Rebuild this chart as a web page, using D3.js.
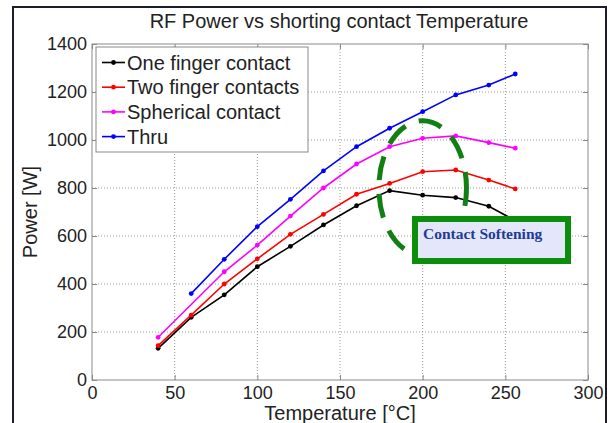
<!DOCTYPE html>
<html lang="en">
  <head>
    <meta charset="utf-8">
    <title>RF Power vs shorting contact Temperature</title>
    <style>
      body { margin: 0; background: #fff; }
      svg { display: block; }
    </style>
  </head>
  <body>
    <div id="chart"></div>
  </body>
  <script src="https://cdnjs.cloudflare.com/ajax/libs/d3/7.8.5/d3.min.js"></script>
  <script type="text/javascript">

    // data (temperature in degC, power in W)
    const temps      = [40, 60, 80, 100, 120, 140, 160, 180, 200, 220, 240, 256]
    const oneFinger  = [132, 261, 355, 472, 557, 646, 726, 789, 770, 760, 724, 664]
    const twoFinger  = [143, 270, 400, 505, 607, 690, 774, 819, 868, 875, 833, 796]
    const spherical  = [178, null, 451, 562, 683, 800, 900, 972, 1007, 1017, 989, 966]
    const thru       = [null, 360, 503, 639, 753, 871, 972, 1049, 1118, 1188, 1229, 1275]

    const seriesNames  = ['One finger contact', 'Two finger contacts', 'Spherical contact', 'Thru']
    const seriesColors = ['#000000', '#ff0000', '#ff00ff', '#0000ff']
    const xTicks = [0, 50, 100, 150, 200, 250, 300]
    const yTicks = [0, 200, 400, 600, 800, 1000, 1200, 1400]

    const width = 610, height = 423
    const font = '"Liberation Sans", Arial, Helvetica, sans-serif'

    const svg = d3.select('#chart').append('svg')
      .attr('width', width)
      .attr('height', height)

    // dark frame round the picture
    svg.append('rect')
      .attr('x', 13).attr('y', 7)
      .attr('width', 593).attr('height', 430)
      .attr('fill', 'none')
      .attr('stroke', '#1c1c2c')
      .attr('stroke-width', 2)

    const x = d3.scaleLinear().domain([0, 300]).range([92, 588])
    const y = d3.scaleLinear().domain([0, 1400]).range([380, 44])

    // grid
    const grid = svg.append('g')
    grid.selectAll('.vgrid')
      .data(xTicks.slice(1, -1))
      .join('line')
      .attr('x1', d => x(d)).attr('x2', d => x(d))
      .attr('y1', y(0)).attr('y2', y(1400))
      .attr('stroke', '#9a9a9a')
      .attr('stroke-dasharray', '1,2')
    grid.selectAll('.hgrid')
      .data(yTicks.slice(1, -1))
      .join('line')
      .attr('y1', d => y(d)).attr('y2', d => y(d))
      .attr('x1', x(0)).attr('x2', x(300))
      .attr('stroke', '#9a9a9a')
      .attr('stroke-dasharray', '1,2')

    // box and axes
    svg.append('rect')
      .attr('x', x(0)).attr('y', y(1400))
      .attr('width', x(300) - x(0)).attr('height', y(0) - y(1400))
      .attr('fill', 'none')
      .attr('stroke', '#8a8a8a')

    svg.append('g')
      .attr('transform', `translate(0,${y(0)})`)
      .call(d3.axisBottom(x).tickValues(xTicks).tickSize(-5).tickPadding(6).tickFormat(d3.format('d')))
    svg.append('g')
      .attr('transform', `translate(${x(0)},0)`)
      .call(d3.axisLeft(y).tickValues(yTicks).tickSize(-5).tickPadding(5).tickFormat(d3.format('d')))
    svg.append('g')
      .attr('transform', `translate(0,${y(1400)})`)
      .call(d3.axisTop(x).tickValues(xTicks).tickSize(-5).tickFormat(''))
    svg.append('g')
      .attr('transform', `translate(${x(300)},0)`)
      .call(d3.axisRight(y).tickValues(yTicks).tickSize(-5).tickFormat(''))

    svg.selectAll('.domain').remove()
    svg.selectAll('.tick line').attr('stroke', '#8a8a8a')
    svg.selectAll('.tick text')
      .attr('fill', '#222')
      .style('font-family', font)
      .style('font-size', '18px')

    // series
    const allSeries = [oneFinger, twoFinger, spherical, thru].map((vals, i) => ({
      name: seriesNames[i],
      color: seriesColors[i],
      points: temps.map((t, j) => ({ t: t, p: vals[j] })).filter(d => d.p !== null)
    }))

    const line = d3.line().x(d => x(d.t)).y(d => y(d.p))

    const lines = svg.append('g')
    allSeries.forEach(s => {
      lines.append('path')
        .datum(s.points)
        .attr('d', line)
        .attr('fill', 'none')
        .attr('stroke', s.color)
        .attr('stroke-width', 1.6)
      lines.selectAll(null)
        .data(s.points)
        .join('circle')
        .attr('cx', d => x(d.t))
        .attr('cy', d => y(d.p))
        .attr('r', 2.4)
        .attr('fill', s.color)
    })

    // title and axis labels
    svg.append('text')
      .attr('x', 339).attr('y', 28)
      .attr('text-anchor', 'middle')
      .attr('fill', '#222')
      .style('font-family', font)
      .style('font-size', '20px')
      .text('RF Power vs shorting contact Temperature')

    svg.append('text')
      .attr('x', 340).attr('y', 420)
      .attr('text-anchor', 'middle')
      .attr('fill', '#222')
      .style('font-family', font)
      .style('font-size', '20px')
      .text('Temperature [°C]')

    svg.append('text')
      .attr('transform', `translate(37,${(y(0) + y(1400)) / 2}) rotate(-90)`)
      .attr('text-anchor', 'middle')
      .attr('fill', '#222')
      .style('font-family', font)
      .style('font-size', '20px')
      .text('Power [W]')

    // legend
    const legend = svg.append('g')
    legend.append('rect')
      .attr('x', 96).attr('y', 47)
      .attr('width', 212).attr('height', 105)
      .attr('fill', '#fff')
      .attr('stroke', '#8a8a8a')
    const rows = legend.selectAll('.row')
      .data(allSeries)
      .join('g')
      .attr('transform', (d, i) => `translate(0,${62.5 + i * 24.7})`)
    rows.append('line')
      .attr('x1', 102).attr('x2', 125)
      .attr('stroke', d => d.color)
      .attr('stroke-width', 1.6)
    rows.append('circle')
      .attr('cx', 113.5).attr('r', 2.4)
      .attr('fill', d => d.color)
    rows.append('text')
      .attr('x', 127).attr('y', 7)
      .attr('fill', '#222')
      .style('font-family', font)
      .style('font-size', '20px')
      .text(d => d.name)

    // annotation: dashed ellipse and label box
    svg.append('ellipse')
      .attr('cx', x(200)).attr('cy', y(800))
      .attr('rx', x(226.5) - x(200)).attr('ry', y(800) - y(1080))
      .attr('fill', 'none')
      .attr('stroke', '#127f12')
      .attr('stroke-width', 5)
      .attr('stroke-dasharray', '24,14')
      .attr('stroke-dashoffset', 6)

    svg.append('rect')
      .attr('x', 415).attr('y', 219)
      .attr('width', 153).attr('height', 42)
      .attr('fill', '#e4e6fa')
      .attr('stroke', '#0b8f0b')
      .attr('stroke-width', 6)
    svg.append('text')
      .attr('x', 423).attr('y', 239)
      .attr('fill', '#1f3c98')
      .style('font-family', '"Liberation Serif", "Times New Roman", serif')
      .style('font-weight', 'bold')
      .style('font-size', '15.5px')
      .text('Contact Softening')

  </script>
</html>
